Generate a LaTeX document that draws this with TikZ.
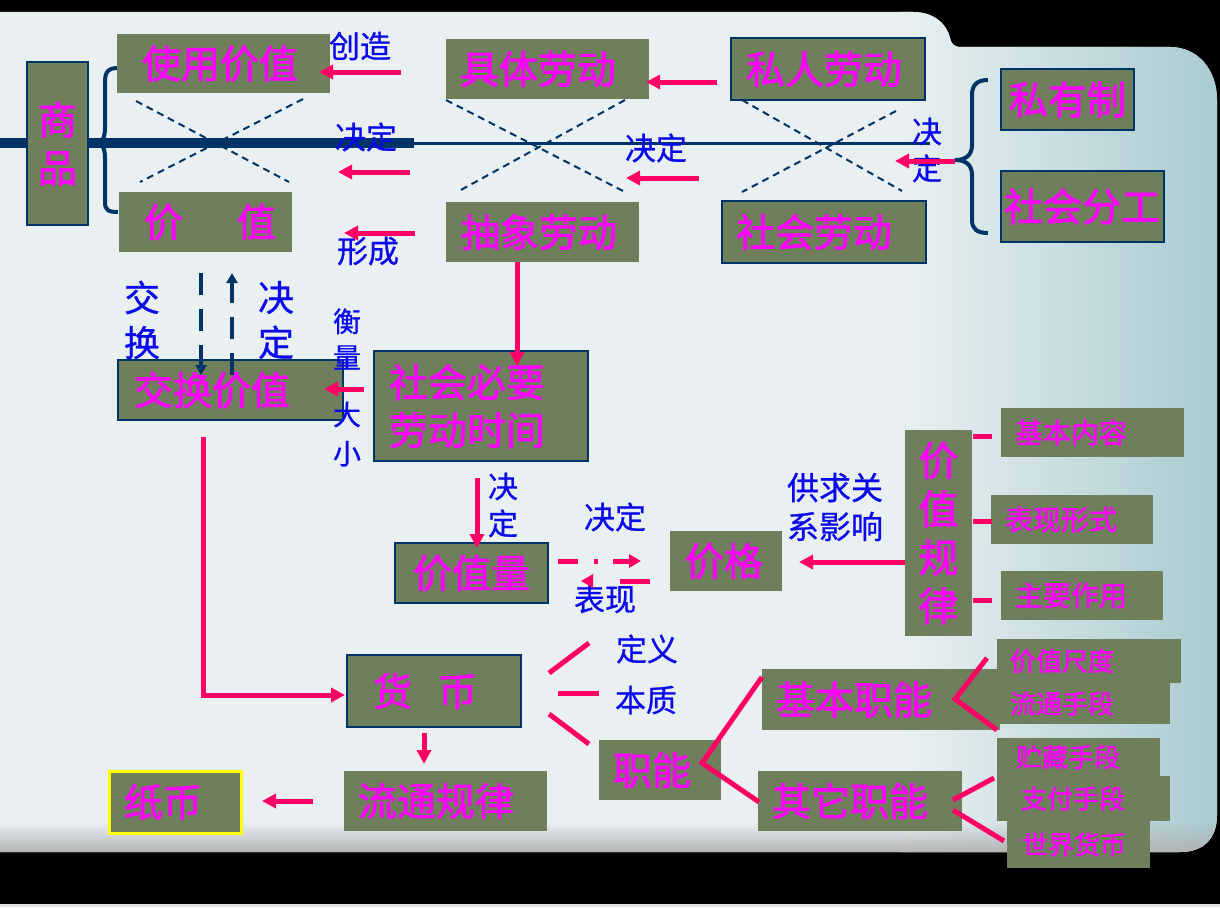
\documentclass[tikz,border=0pt]{standalone}
\usepackage{fontspec}
\newfontfamily\cjk{Noto Sans CJK SC}[FakeBold=1.6]
\newfontfamily\cjkl{Noto Sans CJK SC}[FakeBold=0.8]
\usetikzlibrary{arrows.meta,fadings}
\definecolor{olivebox}{RGB}{111,127,91}
\definecolor{mag}{RGB}{255,0,255}
\definecolor{navy}{RGB}{0,51,102}
\definecolor{pinkr}{RGB}{255,0,102}
\definecolor{lblue}{RGB}{10,10,235}
\definecolor{pM}{RGB}{234,240,242}
\definecolor{pR}{RGB}{168,203,208}
\definecolor{yel}{RGB}{255,255,0}
\newcommand\fBig{\cjk\fontsize{39}{48}\selectfont}
\newcommand\fMid{\cjk\fontsize{28}{34}\selectfont}
\newcommand\fSm{\cjk\fontsize{26}{30}\selectfont}
\newcommand\fLab{\cjkl\fontsize{31}{37}\selectfont}
\tikzset{
  box/.style={fill=olivebox, text=mag, inner ysep=0pt, outer sep=0pt, anchor=north west, align=left, font=\fBig},
  nbox/.style={box, draw=navy, line width=2.5pt},
  tbox/.style={box, draw=navy, line width=1.2pt},
  lab/.style={text=lblue, inner sep=0pt, align=center, font=\fLab},
  parr/.style={pinkr, line width=5pt, -{Triangle[length=14pt,width=14pt]}},
  pline/.style={pinkr, line width=5pt},
  xd/.style={navy, line width=2pt, dash pattern=on 7pt off 5pt},
  vdash/.style={navy, line width=4pt, dash pattern=on 22pt off 14pt, -{Triangle[length=10pt,width=11pt]}},
  brc/.style={navy, line width=4pt},
}
\begin{document}
\begin{tikzpicture}[x=1pt,y=-1pt]
\useasboundingbox (0,0) rectangle (1220,907);
% background
\fill[black] (0,0) rectangle (1220,907);
\fill[black!12] (0,904) rectangle (1220,907);
\begin{scope}
\clip (0,12) -- (913,12) .. controls (935,12) and (947,25) .. (950,38) .. controls (952,45) and (954,47) .. (962,47) -- (1170,47) .. controls (1198,47) and (1217,70) .. (1217,100) -- (1217,815) .. controls (1217,838) and (1204,852) .. (1180,852) -- (0,852) -- cycle;
\fill[pM] (0,0) rectangle (1220,907);
\shade[left color=pM, right color=pR] (900,0) rectangle (1220,907);
\fill[black!30, path fading=north] (0,822) rectangle (1220,853);
\end{scope}

% main axis line
\draw[navy, line width=10pt] (0,143) -- (414,143);
\draw[navy, line width=3pt] (414,143) -- (930,143);

% dashed crosses
\draw[xd] (136,101) -- (289,182);
\draw[xd] (303,99) -- (140,182);
\draw[xd] (446,100) -- (625,192);
\draw[xd] (625,100) -- (459,191);
\draw[xd] (742,100) -- (902,191);
\draw[xd] (896,111) -- (742,192);

% braces
\draw[brc] (118,68) .. controls (108,68) and (105,72) .. (105,82) -- (105,128) .. controls (105,138) and (102,143) .. (96,143) .. controls (102,143) and (105,148) .. (105,158) -- (105,202) .. controls (105,210) and (108,212) .. (118,212);
\draw[brc] (988,80) .. controls (977,80) and (972,85) .. (972,95) -- (972,145) .. controls (972,155) and (966,160) .. (955,160) .. controls (966,160) and (972,165) .. (972,175) -- (972,220) .. controls (972,229) and (977,233) .. (988,233);

% boxes
\node[nbox, minimum height=163pt, inner xsep=0pt, text width=61pt, align=center] (sp) at (27,62) {商\\品};
\node[box, minimum height=59pt, inner xsep=25pt, text width=163pt] (syjz) at (117,34) {使用价值};
\node[box, minimum height=60pt, inner xsep=0pt, text width=173pt] (jz) at (119,192) {\hspace*{25pt}价\hspace{54pt}值};
\node[box, minimum height=60pt, inner xsep=14pt, text width=175pt] (jtld) at (446,39) {具体劳动};
\node[tbox, minimum height=62pt, inner xsep=15pt, text width=164pt] (srld) at (731,38) {私人劳动};
\node[box, minimum height=60pt, inner xsep=15pt, text width=163pt] (cxld) at (446,202) {抽象劳动};
\node[tbox, minimum height=62pt, inner xsep=14pt, text width=176pt] (shld) at (722,201) {社会劳动};
\node[nbox, minimum height=61pt, inner xsep=8pt, text width=117pt] (syz) at (1001,69) {私有制};
\node[nbox, minimum height=71pt, inner xsep=3pt, text width=157pt] (shfg) at (1001,171) {社会分工};
\node[tbox, minimum height=60pt, inner xsep=16pt, text width=193pt] (jhjz) at (118,360) {交换价值};
\node[tbox, minimum height=110pt, inner xsep=15pt, text width=184pt] (shby) at (374,351) {社会必要\\劳动时间};
\node[nbox, minimum height=60pt, inner xsep=18pt, text width=117pt] (jzl) at (395,543) {价值量};
\node[box, minimum height=60pt, inner xsep=15pt, text width=82pt] (jg) at (670,531) {价格};
\node[box, minimum height=206pt, inner xsep=0pt, text width=67pt, align=center, font=\cjk\fontsize{40}{48.5}\selectfont] (jzgl) at (905,430) {价\\值\\规\\律};
\node[box, minimum height=49pt, inner xsep=14pt, text width=155pt, font=\fMid] (jbnr) at (1001,408) {基本内容};
\node[box, minimum height=49pt, inner xsep=14pt, text width=134pt, font=\fMid] (bxxs) at (991,495) {表现形式};
\node[box, minimum height=49pt, inner xsep=14pt, text width=134pt, font=\fMid] (zyzy) at (1001,571) {主要作用};
\node[nbox, minimum height=72pt, inner xsep=0pt, text width=174pt] (hb) at (347,655) {\hspace*{26pt}货\hspace{26pt}币};
\node[box, minimum height=60pt, inner xsep=14pt, text width=175pt] (ltgl) at (344,771) {流通规律};
\node[box, draw=yel, line width=3pt, minimum height=62pt, inner xsep=15pt, text width=102pt] (zb) at (109,771) {纸币};
\node[box, minimum height=60pt, inner xsep=14pt, text width=94pt] (zn) at (599,740) {职能};
\node[box, minimum height=61pt, inner xsep=14pt, text width=210pt] (jbzn) at (762,669) {基本职能};
\node[box, minimum height=60pt, inner xsep=14pt, text width=176pt] (qtzn) at (758,771) {其它职能};
\node[box, minimum height=44pt, inner xsep=13pt, text width=158pt, font=\fSm] (jzcd) at (997,639) {价值尺度};
\node[box, minimum height=41pt, inner xsep=13pt, text width=147pt, font=\fSm] (ltsd) at (997,683) {流通手段};
\node[box, minimum height=38pt, inner xsep=19pt, text width=125pt, font=\fSm] (zcsd) at (997,738) {贮藏手段};
\node[box, minimum height=45pt, inner xsep=24pt, text width=125pt, font=\fSm] (zfsd) at (997,776) {支付手段};
\node[box, minimum height=47pt, inner xsep=15pt, text width=113pt, font=\fSm] (sjhb) at (1007,821) {世界货币};

% labels
\node[lab] (lcz) at (360,46) {创造};
\node[lab] (ljd1) at (366,137) {决定};
\node[lab] (lxc) at (368,251) {形成};
\node[lab] (ljd2) at (656,148) {决定};
\node[lab, font=\cjkl\fontsize{30}{37}\selectfont] (ljd3) at (927,150) {决\\定};
\node[lab, font=\cjkl\fontsize{36}{45}\selectfont] (ljh) at (142,320) {交\\换};
\node[lab, font=\cjkl\fontsize{36}{45}\selectfont] (ljd4) at (276,320) {决\\定};
\node[lab, font=\cjkl\fontsize{28}{36}\selectfont] (lhl) at (347,339) {衡\\量};
\node[lab, font=\cjkl\fontsize{28}{39}\selectfont] (ldx) at (347,434) {大\\小};
\node[lab, font=\cjkl\fontsize{30}{37}\selectfont] (ljd5) at (503,505) {决\\定};
\node[lab] (ljd6) at (615,517) {决定};
\node[lab] (lbx) at (605,599) {表现};
\node[lab, font=\cjkl\fontsize{32}{39}\selectfont] (lgq) at (835,507) {供求关\\系影响};
\node[lab] (ldy) at (647,649) {定义};
\node[lab] (lbz) at (646,700) {本质};

% connector end points
\coordinate (a1) at (401,72);  \coordinate (b1) at (319,72);
\coordinate (a2) at (717,82);  \coordinate (b2) at (646,82);
\coordinate (a3) at (410,172); \coordinate (b3) at (338,172);
\coordinate (a4) at (699,178); \coordinate (b4) at (626,178);
\coordinate (a5) at (415,233); \coordinate (b5) at (344,233);
\coordinate (a6) at (955,161); \coordinate (b6) at (895,161);
\coordinate (a7) at (517,262); \coordinate (b7) at (517,366);
\coordinate (a8) at (364,389); \coordinate (b8) at (324,389);
\coordinate (a9) at (477,478); \coordinate (b9) at (477,548);
\coordinate (a10) at (905,562); \coordinate (b10) at (799,562);
\coordinate (a11) at (203,437); \coordinate (b11) at (345,695);
\coordinate (a12) at (424,733); \coordinate (b12) at (424,764);
\coordinate (a13) at (313,801); \coordinate (b13) at (262,801);
\coordinate (a14) at (558,561); \coordinate (b14) at (641,561);
\coordinate (a15) at (650,581); \coordinate (b15) at (581,581);
\coordinate (jh1) at (201,273); \coordinate (jh2) at (201,375);
\coordinate (jd1) at (232,375); \coordinate (jd2) at (232,273);

% navy dashed arrows
\draw[vdash] (jh1) -- (jh2);
\draw[vdash] (jd1) -- (jd2);

% pink arrows
\draw[parr] (a1) -- (b1);
\draw[parr] (a2) -- (b2);
\draw[parr] (a3) -- (b3);
\draw[parr] (a4) -- (b4);
\draw[parr] (a5) -- (b5);
\draw[parr] (a6) -- (b6);
\draw[parr] (a7) -- (b7);
\draw[parr] (a8) -- (b8);
\draw[parr] (a9) -- (b9);
\draw[parr] (a10) -- (b10);
\draw[parr] (a11) |- (b11);
\draw[parr] (a12) -- (b12);
\draw[parr] (a13) -- (b13);
\draw[pinkr, line width=5pt, dash pattern=on 20pt off 16pt on 4pt off 15pt on 40pt, -{Triangle[length=12pt,width=13pt]}] (a14) -- (b14);
\draw[pinkr, line width=5pt, dash pattern=on 30pt off 40pt, -{Triangle[length=12pt,width=13pt]}] (a15) -- (b15);

% short pink ticks of value law
\draw[pline] (973,436) -- (992,436);
\draw[pline] (973,521) -- (992,521);
\draw[pline] (973,600) -- (992,600);

% rays from money
\draw[pline] (549,673) -- (589,643);
\draw[pline] (558,693) -- (599,693);
\draw[pline] (549,714) -- (589,744);

% forks
\draw[pline] (762,677) -- (702,763) -- (759,802);
\draw[pline] (987,658) -- (955,699) -- (997,730);
\draw[pline] (953,800) -- (994,778);
\draw[pline] (953,810) -- (1004,841);
\end{tikzpicture}
\end{document}
